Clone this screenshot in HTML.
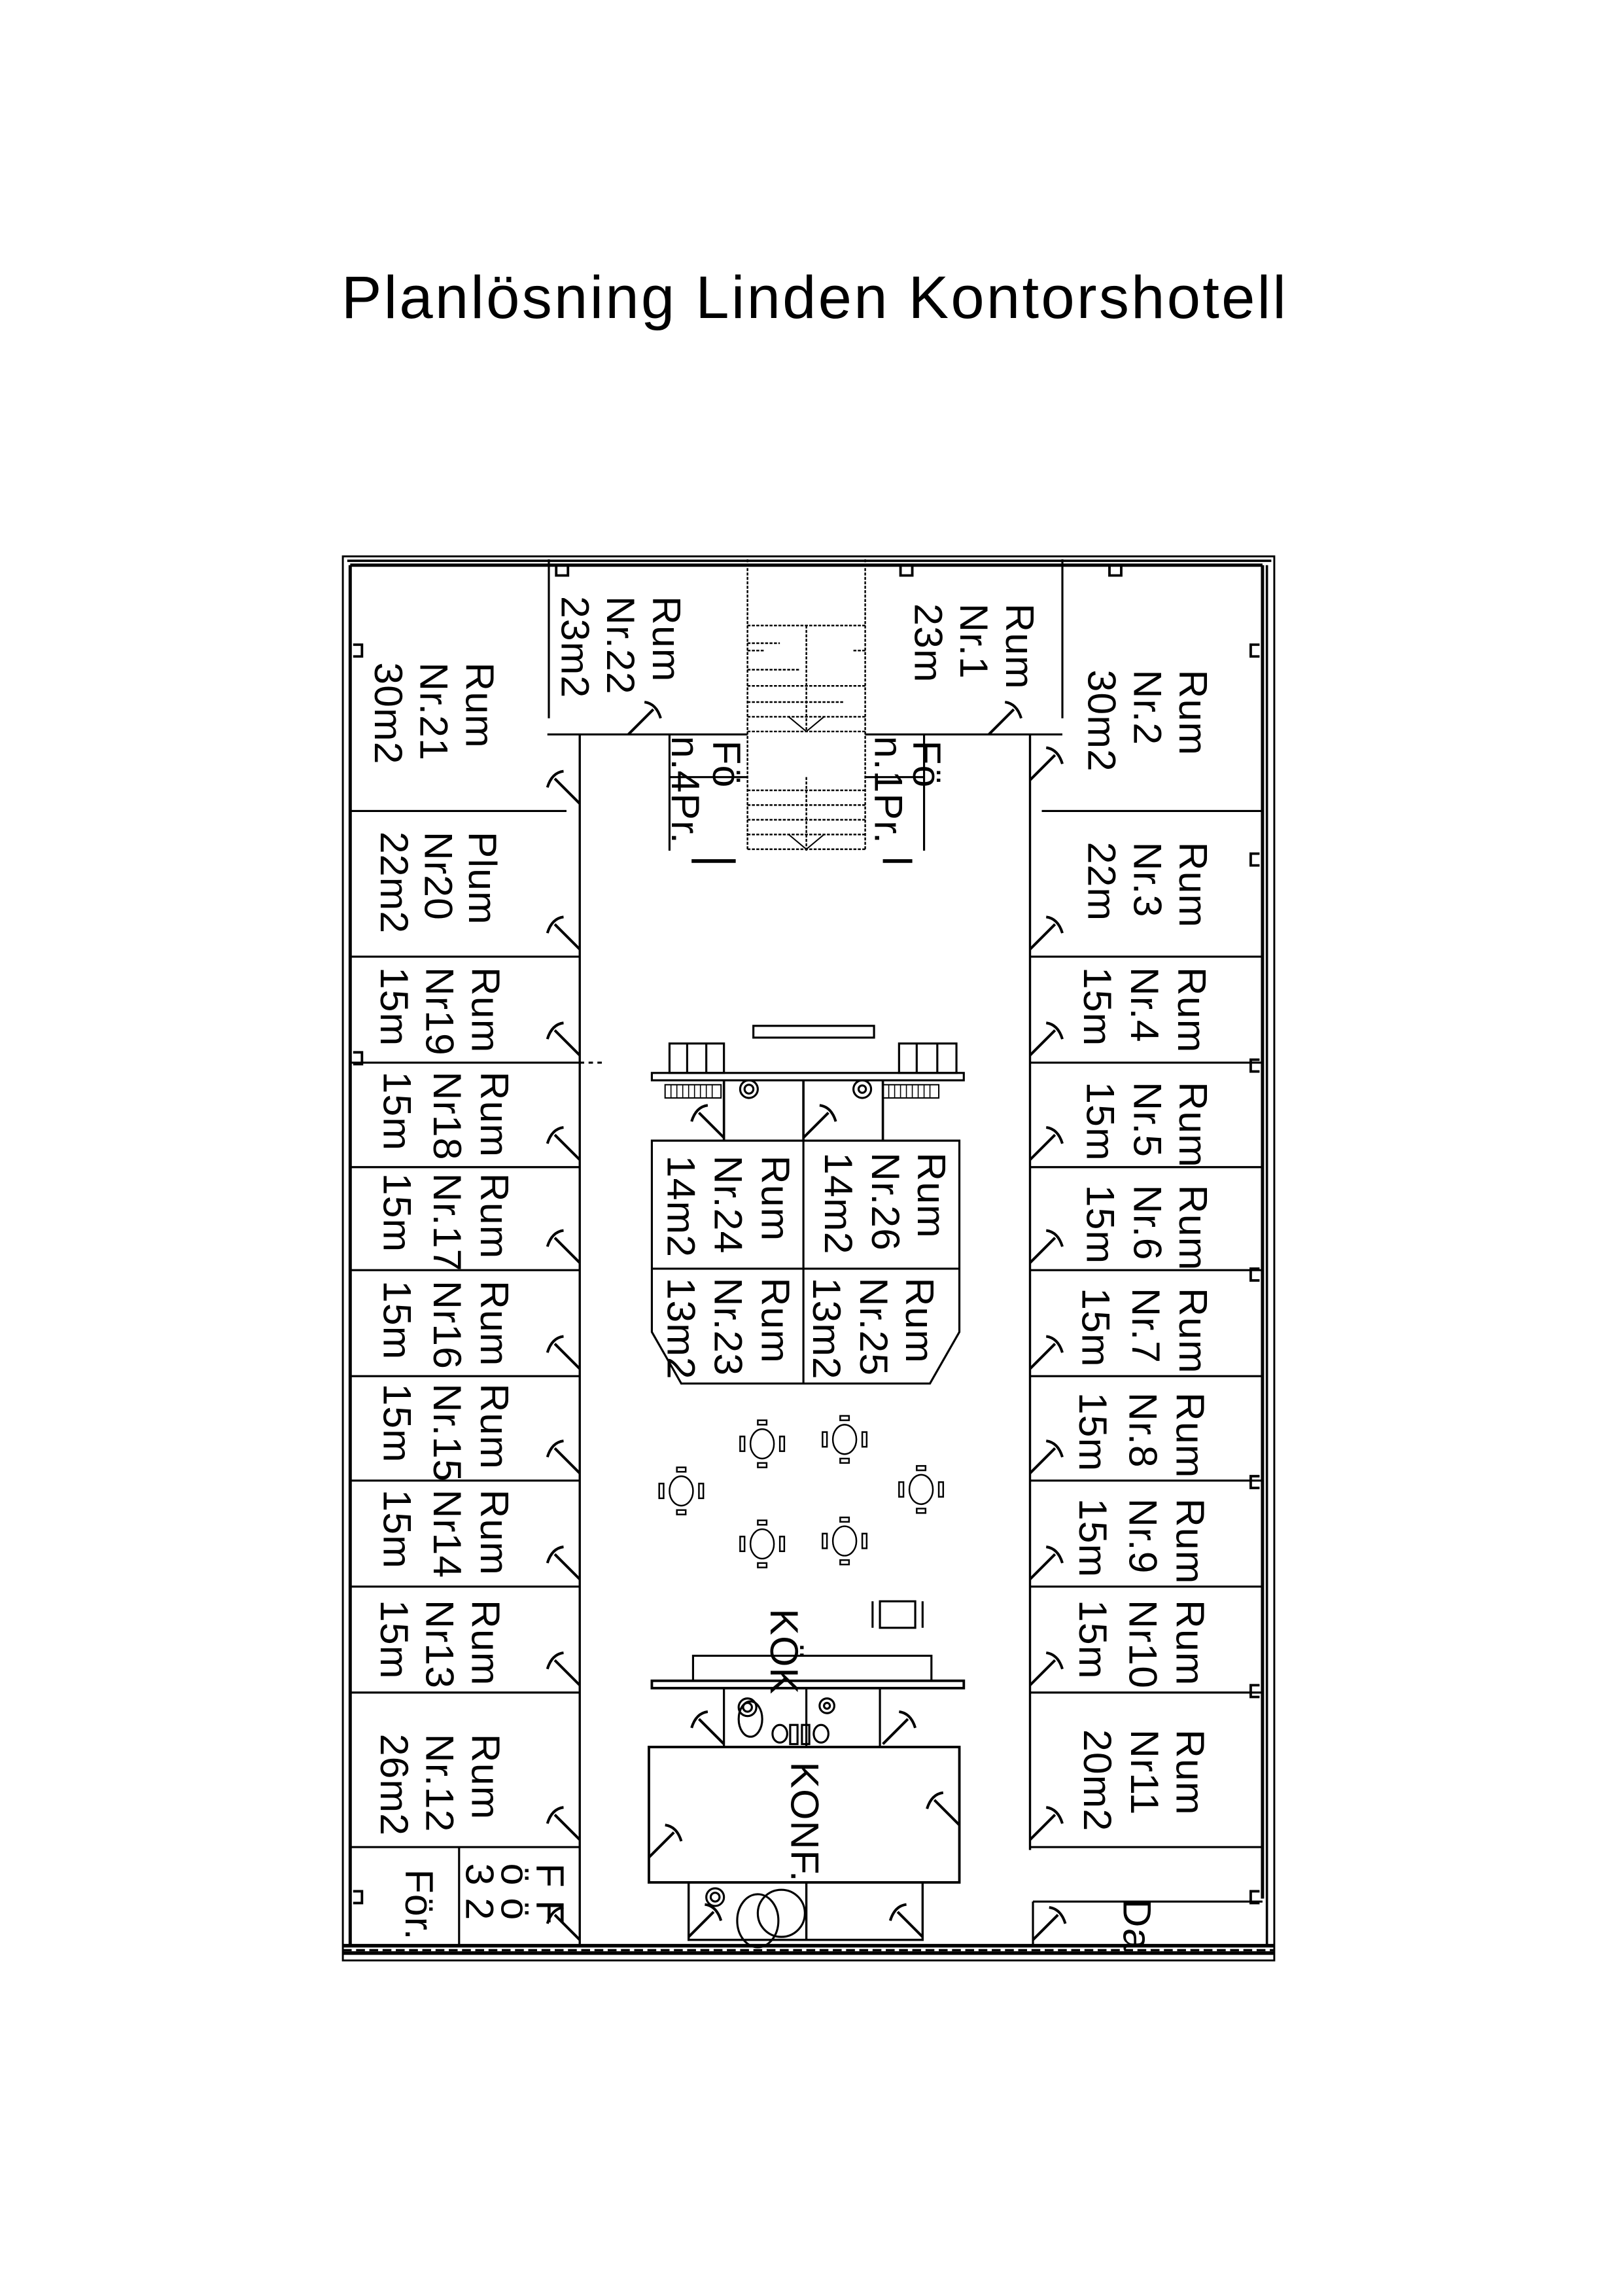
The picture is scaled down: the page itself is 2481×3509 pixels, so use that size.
<!DOCTYPE html>
<html><head><meta charset="utf-8"><style>
html,body{margin:0;padding:0;background:#fff}
svg{display:block}
text{font-family:"Liberation Sans",sans-serif;fill:#000}
.r{font-size:27px;dominant-baseline:central;letter-spacing:0.5px}
</style></head><body>
<svg width="2481" height="3509" viewBox="0 0 1103 1560" xmlns="http://www.w3.org/2000/svg">
<defs>
<path id="dl" d="M0,0 L-17,-17 M-22,-11 Q-19,-21 -11,-22" fill="none" stroke="#000" stroke-width="1.8"/>
<path id="dr" d="M0,0 L17,-17 M22,-11 Q19,-21 11,-22" fill="none" stroke="#000" stroke-width="1.8"/>
<g id="tbl" fill="none" stroke="#000" stroke-width="1.1">
<ellipse cx="0" cy="0" rx="8" ry="10"/><rect x="-3" y="-16" width="6" height="3"/><rect x="-3" y="13" width="6" height="3"/><rect x="-15" y="-5" width="3" height="10"/><rect x="12" y="-5" width="3" height="10"/></g>
</defs>
<text x="553" y="216" text-anchor="middle" font-size="41" textLength="642">Planlösning Linden Kontorshotell</text>

<g fill="none" stroke="#000" stroke-width="1.4">
<rect x="233" y="378" width="633" height="954" stroke-width="1.3"/>
<path d="M238,384 L238,1322 M858,384 L858,1290 M238,384 L858,384" stroke-width="2.2"/>
<path d="M236,381 L864,381" stroke-width="1.6"/>
<path d="M861,384 L861,1322" stroke-width="1.6"/>
<path d="M233,1322 L866,1322 M233,1327 L866,1327" stroke-width="2.4"/>
<path d="M233,1325 L866,1325" stroke-width="1.4" stroke-dasharray="6,3"/>
<path d="M394,499 L394,1322 M700,499 L700,1257" stroke-width="1.5"/>
<path d="M238,551 L385,551 M238,650 L394,650 M238,722 L394,722 M238,793 L394,793 M238,863 L394,863 M238,935 L394,935 M238,1006 L394,1006 M238,1078 L394,1078 M238,1150 L394,1150 M238,1255 L394,1255 M312,1255 L312,1322"/>
<path d="M394,722 L410,722" stroke-dasharray="3,3"/>
<path d="M708,551 L858,551 M700,650 L858,650 M700,722 L858,722 M700,793 L858,793 M700,863 L858,863 M700,935 L858,935 M700,1006 L858,1006 M700,1078 L858,1078 M700,1150 L858,1150 M700,1255 L858,1255 M702,1292 L858,1292 M702,1292 L702,1322"/>
<path d="M373,380 L373,488 M372,499 L508,499 M588,499 L722,499 M722,380 L722,488"/>
<path d="M455,499 L455,578 M455,528 L508,528 M588,528 L628,528 M628,499 L628,578"/>
<g stroke-width="1.1" stroke-dasharray="2,1">
<path d="M508,380 L508,578 M588,380 L588,578 M548,425 L548,497 M548,528 L548,578"/>
<path d="M508,425 H588 M508,455 H543 M508,466 H588 M508,477 H573 M508,487 H588 M508,497 H588 M508,537 H588 M508,547 H588 M508,557 H588 M508,567 H588 M508,577 H588 M508,442 H520 M580,442 H588 M508,437 H530"/>
</g>
<path d="M536,487 L548,497 L560,487 M536,567 L548,577 L560,567" stroke-width="0.9"/>
<path d="M470,585 L500,585 M600,585 L620,585" stroke-width="2.5"/>
<rect x="512" y="697" width="82" height="8"/>
<rect x="455" y="709" width="37" height="20"/><path d="M467,709 V729 M480,709 V729"/>
<rect x="611" y="709" width="39" height="20"/><path d="M623,709 V729 M637,709 V729"/>
<rect x="443" y="729" width="212" height="5"/>
<rect x="452" y="737" width="38" height="9" stroke-width="0.9"/>
<path d="M456,737 V746 M460,737 V746 M464,737 V746 M468,737 V746 M472,737 V746 M476,737 V746 M480,737 V746 M484,737 V746" stroke-width="0.7"/>
<rect x="600" y="737" width="38" height="9" stroke-width="0.9"/>
<path d="M604,737 V746 M608,737 V746 M612,737 V746 M616,737 V746 M620,737 V746 M624,737 V746 M628,737 V746 M632,737 V746" stroke-width="0.7"/>
<circle cx="509" cy="740" r="6"/><circle cx="509" cy="740" r="3"/>
<circle cx="586" cy="740" r="6"/><circle cx="586" cy="740" r="2.5"/>
<path d="M492,734 V775 M546,734 V775 M600,734 V775" stroke-width="1.6"/>
<path d="M443,775 L652,775 L652,905 L632,940 L463,940 L443,905 Z"/>
<path d="M546,775 L546,940 M443,862 L652,862"/>
<use href="#tbl" x="518" y="981"/><use href="#tbl" x="574" y="978"/>
<use href="#tbl" x="463" y="1013"/><use href="#tbl" x="626" y="1012"/>
<use href="#tbl" x="518" y="1049"/><use href="#tbl" x="574" y="1047"/>
<rect x="598" y="1088" width="24" height="18"/><path d="M593,1088 V1106 M627,1088 V1106" />
<rect x="471" y="1125" width="162" height="17"/>
<rect x="443" y="1142" width="212" height="5" stroke-width="1.7"/>
<path d="M492,1147 V1187 M548,1147 V1187 M598,1147 V1187"/>
<circle cx="508" cy="1160" r="6"/><circle cx="508" cy="1160" r="3"/><ellipse cx="510" cy="1168" rx="8" ry="12"/>
<circle cx="562" cy="1159" r="5"/><circle cx="562" cy="1159" r="2"/>
<rect x="537" y="1172" width="5" height="13"/><rect x="545" y="1172" width="5" height="13"/>
<ellipse cx="530" cy="1178" rx="5" ry="6"/><ellipse cx="558" cy="1178" rx="5" ry="6"/>
<rect x="441" y="1187" width="211" height="92" stroke-width="1.7"/>
<path d="M468,1279 V1318 H627 V1279 M548,1279 V1318" stroke-width="1.5"/>
<circle cx="486" cy="1289" r="6"/><circle cx="486" cy="1289" r="3"/>
<ellipse cx="515" cy="1305" rx="14" ry="18"/><circle cx="531" cy="1300" r="16"/>
<path d="M240,438 h6 v8 h-6 M240,715 h6 v8 h-6 M240,1285 h6 v8 h-6 M856,438 h-6 v8 h6 M856,580 h-6 v8 h6 M856,720 h-6 v8 h6 M856,862 h-6 v8 h6 M856,1003 h-6 v8 h6 M856,1145 h-6 v8 h6 M856,1285 h-6 v8 h6 M378,385 v6 h8 v-6 M612,385 v6 h8 v-6 M754,385 v6 h8 v-6" stroke-width="1.7"/>
</g>
<use href="#dl" x="394" y="546"/><use href="#dl" x="394" y="645"/><use href="#dl" x="394" y="717"/><use href="#dl" x="394" y="788"/><use href="#dl" x="394" y="858"/><use href="#dl" x="394" y="930"/><use href="#dl" x="394" y="1001"/><use href="#dl" x="394" y="1073"/><use href="#dl" x="394" y="1145"/><use href="#dl" x="394" y="1250"/><use href="#dl" x="394" y="1318"/>
<use href="#dr" x="700" y="530"/><use href="#dr" x="700" y="645"/><use href="#dr" x="700" y="717"/><use href="#dr" x="700" y="788"/><use href="#dr" x="700" y="858"/><use href="#dr" x="700" y="930"/><use href="#dr" x="700" y="1001"/><use href="#dr" x="700" y="1073"/><use href="#dr" x="700" y="1145"/><use href="#dr" x="700" y="1250"/><use href="#dr" x="702" y="1318"/>
<use href="#dr" x="427" y="499"/><use href="#dr" x="672" y="499"/>
<use href="#dl" x="492" y="773"/><use href="#dr" x="546" y="773"/>
<use href="#dr" x="441" y="1262"/><use href="#dl" x="652" y="1240"/>
<use href="#dl" x="492" y="1185"/><use href="#dr" x="600" y="1185"/>
<use href="#dr" x="468" y="1316"/><use href="#dl" x="627" y="1316"/>

<g class="r">
<text transform="translate(326,450) rotate(90)"><tspan x="0" y="0">Rum</tspan><tspan x="0" y="31">Nr.21</tspan><tspan x="0" y="62">30m2</tspan></text>
<text transform="translate(453,405) rotate(90)"><tspan x="0" y="0">Rum</tspan><tspan x="0" y="31">Nr.22</tspan><tspan x="0" y="62">23m2</tspan></text>
<text transform="translate(693,410) rotate(90)"><tspan x="0" y="0">Rum</tspan><tspan x="0" y="31">Nr.1</tspan><tspan x="0" y="62">23m</tspan></text>
<text transform="translate(811,455) rotate(90)"><tspan x="0" y="0">Rum</tspan><tspan x="0" y="31">Nr.2</tspan><tspan x="0" y="62">30m2</tspan></text>
<text transform="translate(328,565) rotate(90)"><tspan x="0" y="0">Plum</tspan><tspan x="0" y="30">Nr20</tspan><tspan x="0" y="60">22m2</tspan></text>
<text transform="translate(811,572) rotate(90)"><tspan x="0" y="0">Rum</tspan><tspan x="0" y="31">Nr.3</tspan><tspan x="0" y="62">22m</tspan></text>
<text transform="translate(330,657) rotate(90)"><tspan x="0" y="0">Rum</tspan><tspan x="0" y="31">Nr19</tspan><tspan x="0" y="62">15m</tspan></text>
<text transform="translate(810,657) rotate(90)"><tspan x="0" y="0">Rum</tspan><tspan x="0" y="32">Nr.4</tspan><tspan x="0" y="64">15m</tspan></text>
<text transform="translate(336,728) rotate(90)"><tspan x="0" y="0">Rum</tspan><tspan x="0" y="32">Nr18</tspan><tspan x="0" y="66">15m</tspan></text>
<text transform="translate(811,735) rotate(90)"><tspan x="0" y="0">Rum</tspan><tspan x="0" y="31">Nr.5</tspan><tspan x="0" y="63">15m</tspan></text>
<text transform="translate(336,797) rotate(90)"><tspan x="0" y="0">Rum</tspan><tspan x="0" y="32">Nr.17</tspan><tspan x="0" y="66">15m</tspan></text>
<text transform="translate(811,805) rotate(90)"><tspan x="0" y="0">Rum</tspan><tspan x="0" y="31">Nr.6</tspan><tspan x="0" y="63">15m</tspan></text>
<text transform="translate(336,870) rotate(90)"><tspan x="0" y="0">Rum</tspan><tspan x="0" y="32">Nr16</tspan><tspan x="0" y="66">15m</tspan></text>
<text transform="translate(811,875) rotate(90)"><tspan x="0" y="0">Rum</tspan><tspan x="0" y="32">Nr.7</tspan><tspan x="0" y="66">15m</tspan></text>
<text transform="translate(336,940) rotate(90)"><tspan x="0" y="0">Rum</tspan><tspan x="0" y="32">Nr.15</tspan><tspan x="0" y="66">15m</tspan></text>
<text transform="translate(809,946) rotate(90)"><tspan x="0" y="0">Rum</tspan><tspan x="0" y="32">Nr.8</tspan><tspan x="0" y="66">15m</tspan></text>
<text transform="translate(336,1012) rotate(90)"><tspan x="0" y="0">Rum</tspan><tspan x="0" y="32">Nr14</tspan><tspan x="0" y="66">15m</tspan></text>
<text transform="translate(809,1018) rotate(90)"><tspan x="0" y="0">Rum</tspan><tspan x="0" y="32">Nr.9</tspan><tspan x="0" y="66">15m</tspan></text>
<text transform="translate(330,1087) rotate(90)"><tspan x="0" y="0">Rum</tspan><tspan x="0" y="31">Nr13</tspan><tspan x="0" y="62">15m</tspan></text>
<text transform="translate(809,1087) rotate(90)"><tspan x="0" y="0">Rum</tspan><tspan x="0" y="32">Nr10</tspan><tspan x="0" y="66">15m</tspan></text>
<text transform="translate(330,1178) rotate(90)"><tspan x="0" y="0">Rum</tspan><tspan x="0" y="31">Nr.12</tspan><tspan x="0" y="62">26m2</tspan></text>
<text transform="translate(809,1175) rotate(90)"><tspan x="0" y="0">Rum</tspan><tspan x="0" y="31">Nr11</tspan><tspan x="0" y="63">20m2</tspan></text>
<text transform="translate(633,783) rotate(90)"><tspan x="0" y="0">Rum</tspan><tspan x="0" y="31">Nr.26</tspan><tspan x="0" y="63">14m2</tspan></text>
<text transform="translate(527,785) rotate(90)"><tspan x="0" y="0">Rum</tspan><tspan x="0" y="32">Nr.24</tspan><tspan x="0" y="64">14m2</tspan></text>
<text transform="translate(625,868) rotate(90)"><tspan x="0" y="0">Rum</tspan><tspan x="0" y="31">Nr.25</tspan><tspan x="0" y="63">13m2</tspan></text>
<text transform="translate(527,868) rotate(90)"><tspan x="0" y="0">Rum</tspan><tspan x="0" y="32">Nr.23</tspan><tspan x="0" y="64">13m2</tspan></text>
<text transform="translate(533,1093) rotate(90)">KÖK</text>
<text transform="translate(547,1197) rotate(90)">KONF.</text>
<text transform="translate(285,1270) rotate(90)">För.</text>
<text transform="translate(374,1266) rotate(90)"><tspan x="0" y="0">F F</tspan><tspan x="0" y="24">ö ö</tspan><tspan x="0" y="48">3 2</tspan></text>
<text transform="translate(773,1290) rotate(90)">Da</text>
<text transform="translate(494,503) rotate(90)">Fö</text>
<text transform="translate(466,500) rotate(90)">n.4Pr.</text>
<text transform="translate(630,503) rotate(90)">Fö</text>
<text transform="translate(604,500) rotate(90)">n.1Pr.</text>
</g>
</svg>
</body></html>
